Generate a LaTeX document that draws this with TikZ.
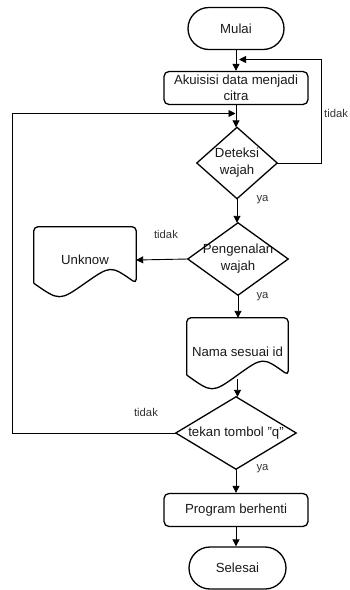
\documentclass[tikz,border=0pt]{standalone}
\usepackage{fontspec}
\setmainfont{Liberation Sans}
\usetikzlibrary{arrows.meta,calc}
\tikzset{
  shapeline/.style={draw=black,line width=1.3pt},
  term/.style={shapeline,rounded corners=21pt,minimum width=96pt,minimum height=42pt,inner sep=0pt,font=\fontsize{13.2}{15}\selectfont,text=black!90},
  proc/.style={shapeline,rounded corners=5pt,minimum width=144pt,minimum height=33pt,inner sep=0pt,align=center,font=\fontsize{13.2}{16}\selectfont,text=black!90},
  plain/.style={inner sep=0pt,align=center,font=\fontsize{13.2}{17}\selectfont,text=black!90},
  conn/.style={draw=black,line width=0.9pt,-{Triangle[length=7pt,width=7pt]}},
  line/.style={draw=black,line width=0.9pt},
  lab/.style={inner sep=0pt,font=\fontsize{11.3}{13}\selectfont,text=black!80}
}
\newcommand\drawdiam[1]{\draw[shapeline] (#1.north) -- (#1.east) -- (#1.south) -- (#1.west) -- cycle;}
\newcommand\drawdoc[1]{%
  \draw[shapeline] let \p1=(#1.north west), \p2=(#1.south east),
    \n1={\x2-\x1}, \n2={\y1-\y2} in
    (\x1,{\y2+0.15*\n2}) [rounded corners=4pt] -- (\x1,\y1) -- (\x2,\y1) -- (\x2,{\y2+0.15*\n2})
    [sharp corners] .. controls ({\x1+0.75*\n1},{\y2+0.42*\n2}) .. ({\x1+0.5*\n1},{\y2+0.15*\n2})
    .. controls ({\x1+0.25*\n1},{\y2-0.12*\n2}) .. (\x1,{\y2+0.15*\n2});}
\begin{document}
\begin{tikzpicture}[x=1pt,y=-1pt]
\useasboundingbox (0,0) rectangle (349,590);
% nodes
\node[term] (mulai) at (236,28.5) {Mulai};
\node[proc] (akuisisi) at (236,88) {Akuisisi data menjadi\\citra};
\node[plain,minimum width=80pt,minimum height=71pt] (deteksi) at (237,163) {Deteksi\\wajah};
\drawdiam{deteksi}
\node[plain,minimum width=100pt,minimum height=72pt] (pengenalan) at (238,259) {Pengenalan\\wajah};
\drawdiam{pengenalan}
\node[plain,minimum width=102pt,minimum height=66pt] (unknow) at (85,260) {Unknow};
\drawdoc{unknow}
\node[plain,minimum width=101pt,minimum height=67pt] (nama) at (237.5,351.5) {Nama sesuai id};
\drawdoc{nama}
\node[plain,minimum width=120pt,minimum height=72pt] (tekan) at (236,433) {tekan tombol "q"};
\drawdiam{tekan}
\node[proc] (program) at (236,510) {Program berhenti};
\node[term,minimum width=97pt] (selesai) at (237.5,568) {Selesai};
% junction coordinates
\coordinate (jr) at (239,59.5);
\coordinate (rc1) at (321,163);
\coordinate (rc2) at (321,59.5);
\coordinate (jl) at (235.5,113.5);
\coordinate (lc1) at (12,433);
\coordinate (lc2) at (12,113.5);
\coordinate (namab) at (237.5,379);
% connectors
\draw[conn] (mulai.south) -- (akuisisi.north);
\draw[conn] (akuisisi.south) -- (akuisisi.south |- deteksi.north);
\draw[conn] (deteksi.east) -- (rc1) -- (rc2) -- (jr);
\draw[conn] (tekan.west) -- (lc1) -- (lc2) -- (jl);
\draw[conn] (deteksi.south) -- (deteksi.south |- pengenalan.north);
\draw[conn] (pengenalan.west) -- (unknow.east);
\draw[conn] (pengenalan.south) -- (pengenalan.south |- nama.north);
\draw[conn] (namab) -- (namab |- tekan.north);
\draw[conn] (tekan.south) -- (program.north);
\draw[conn] (program.south) -- (program.south |- selesai.north);
% labels
\node[lab,anchor=west] (l1) at (324,113) {tidak};
\node[lab] (l2) at (262.5,200) {ya};
\node[lab] (l3) at (166,234) {tidak};
\node[lab] (l4) at (262.5,297) {ya};
\node[lab] (l5) at (146,412) {tidak};
\node[lab] (l6) at (262.5,469) {ya};
\end{tikzpicture}
\end{document}
